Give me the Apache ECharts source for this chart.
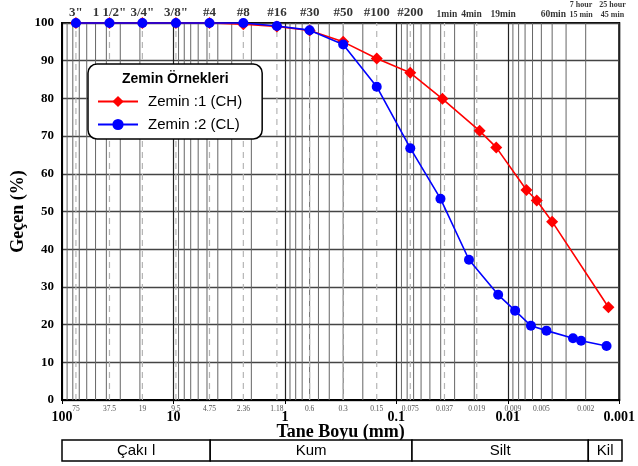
<!DOCTYPE html>
<html>
<head>
<meta charset="utf-8">
<script src="https://cdn.jsdelivr.net/npm/echarts@6/dist/echarts.min.js"></script>
<style>
  html, body { margin: 0; padding: 0; background: #fff; }
  #chart { width: 638px; height: 466px; }
</style>
</head>
<body>
<div id="chart"></div>
<script>
// elek boyutlari (mm) ve isimleri
const sieveSizes = [75, 37.5, 19, 9.5, 4.75, 2.36, 1.18, 0.6, 0.3, 0.15, 0.075];
const sieveNames = ['3"', '1 1/2"', '3/4"', '3/8"', '#4', '#8', '#16', '#30', '#50', '#100', '#200'];
// alt kenardaki kucuk etiketler
const bottomSizes = [75, 37.5, 19, 9.5, 4.75, 2.36, 1.18, 0.6, 0.3, 0.15, 0.075, 0.037, 0.019, 0.009, 0.005, 0.002];
const dashedSizes = [75, 37.5, 19, 9.5, 4.75, 2.36, 1.18, 0.6, 0.3, 0.15, 0.075, 0.037, 0.019];
// hidrometre okuma zamanlari
const hydroNames = ['1min', '4min', '19min', '60min', '7 hour\n15 min', '25 hour\n45 min'];
const hydroSizes = [0.0352, 0.0212, 0.011, 0.0039, 0.0022, 0.00115];
// log grid
const decades = [0.001, 0.01, 0.1, 1, 10];
const minorSteps = [2, 3, 4, 5, 6, 7, 8, 9];
// zemin siniflari
const soilNames = ['Çakı l', 'Kum', 'Silt', 'Kil'];
const soilBounds = [100, 4.75, 0.075, 0.002, 0.001];

// Zemin 1 (CH)
const soil1D = [75, 37.5, 19, 9.5, 4.75, 2.36, 1.18, 0.6, 0.3, 0.15, 0.075, 0.0386, 0.0179, 0.0127, 0.0068, 0.0055, 0.0040, 0.00125];
const soil1P = [100, 100, 100, 100, 100, 99.7, 99.1, 98.0, 95.0, 90.6, 86.8, 79.9, 71.4, 67.0, 55.7, 52.9, 47.3, 24.6];
// Zemin 2 (CL)
const soil2D = [75, 37.5, 19, 9.5, 4.75, 2.36, 1.18, 0.6, 0.3, 0.15, 0.075, 0.0402, 0.0223, 0.0122, 0.0086, 0.0062, 0.0045, 0.0026, 0.0022, 0.0013];
const soil2P = [100, 100, 100, 100, 100, 100, 99.2, 98.1, 94.3, 83.1, 66.8, 53.4, 37.2, 27.9, 23.7, 19.7, 18.4, 16.4, 15.7, 14.3];

const serif = 'Liberation Serif';
const sans = 'Liberation Sans';

const minorSizes = [];
decades.forEach(d => minorSteps.forEach(s => minorSizes.push(d * s)));

// dikey cizgi: eksen olcegi ile 0..100 arasi
function vLine(color, width, dash) {
  return function (params, api) {
    const x = api.value(0);
    const p0 = api.coord([x, 0]);
    const p1 = api.coord([x, 100]);
    return {
      type: 'line', silent: true,
      shape: { x1: p0[0], y1: p0[1], x2: p1[0], y2: p1[1] },
      style: { stroke: color, lineWidth: width, lineDash: dash }
    };
  };
}

function labelSeries(sizes, names, yVal, pos, dist, style) {
  return {
    type: 'scatter', silent: true, clip: false,
    symbolSize: 0,
    data: sizes.map((d, i) => ({ value: [d, yVal], name: names[i] })),
    label: Object.assign({ show: true, position: pos, distance: dist, formatter: '{b}' }, style),
    z: 3
  };
}

const chart = echarts.init(document.getElementById('chart'));
const option = {
  animation: false,
  title: {
    text: 'Zemin Örnekleri',
    left: 117, top: 67,
    textStyle: { fontFamily: sans, fontSize: 14, fontWeight: 'bold', color: '#000' }
  },
  legend: {
    data: ['Zemin :1 (CH)', 'Zemin :2 (CL)'],
    orient: 'vertical',
    left: 88, top: 64,
    padding: [30, 20, 7, 9],
    itemGap: 8,
    itemWidth: 40, itemHeight: 14,
    backgroundColor: '#fff',
    borderColor: '#000', borderWidth: 1.5, borderRadius: 9,
    textStyle: { fontFamily: sans, fontSize: 15, color: '#000', padding: [0, 0, 0, 5] }
  },
  grid: [
    { left: 62, right: 16, top: 23, bottom: 66, show: true, borderColor: '#000', borderWidth: 2 },
    { left: 62, right: 16, top: 440, height: 21 }
  ],
  xAxis: [
    {
      type: 'log', logBase: 10, min: 0.001, max: 100, inverse: true,
      name: 'Tane Boyu (mm)', nameLocation: 'middle', nameGap: 23, nameMoveOverlap: false,
      nameTextStyle: { fontFamily: serif, fontSize: 18, fontWeight: 'bold', color: '#000' },
      axisLine: { show: true, lineStyle: { color: '#000', width: 2 } },
      axisTick: { show: true, length: 4, lineStyle: { color: '#000' } },
      axisLabel: {
        margin: 10, fontFamily: serif, fontSize: 14, fontWeight: 'bold', color: '#000',
        showMinLabel: true, showMaxLabel: true,
        formatter: v => String(parseFloat(Number(v).toPrecision(6)))
      },
      splitLine: { show: true, lineStyle: { color: '#222', width: 1.2 } }
    },
    { type: 'log', logBase: 10, min: 0.001, max: 100, inverse: true, gridIndex: 1, show: false }
  ],
  yAxis: [
    {
      type: 'value', min: 0, max: 100, interval: 10,
      name: 'Geçen (%)', nameLocation: 'middle', nameGap: 35, nameMoveOverlap: false,
      nameTextStyle: { fontFamily: serif, fontSize: 18, fontWeight: 'bold', color: '#000' },
      axisLine: { show: true, lineStyle: { color: '#000', width: 2 } },
      axisTick: { show: false },
      axisLabel: { margin: 8, fontFamily: serif, fontSize: 13, fontWeight: 'bold', color: '#000' },
      splitLine: { show: true, lineStyle: { color: '#444', width: 1.3 } }
    },
    { type: 'value', min: 0, max: 1, gridIndex: 1, show: false }
  ],
  series: [
    {
      type: 'custom', silent: true, clip: false, z: 1,
      data: minorSizes.map(d => [d, 0]),
      renderItem: vLine('#666', 1, null)
    },
    {
      type: 'custom', silent: true, clip: false, z: 1,
      data: dashedSizes.map(d => [d, 0]),
      renderItem: vLine('#b5b5b5', 1.2, [6, 5])
    },
    labelSeries(sieveSizes, sieveNames, 100, 'top', 4,
      { fontFamily: serif, fontSize: 13, fontWeight: 'bold', color: '#000' }),
    labelSeries(hydroSizes, hydroNames, 100, 'top', 3,
      { fontFamily: serif, fontSize: 9.5, fontWeight: 'bold', color: '#000', lineHeight: 10 }),
    labelSeries(bottomSizes, bottomSizes.map(String), 0, 'bottom', 5,
      { fontFamily: serif, fontSize: 7.5, color: '#222' }),
    {
      name: 'Zemin :1 (CH)', type: 'line',
      data: soil1D.map((d, i) => [d, soil1P[i]]),
      symbol: 'diamond', symbolSize: 12, clip: false,
      lineStyle: { color: '#ff0000', width: 1.6 },
      itemStyle: { color: '#ff0000' },
      z: 5
    },
    {
      name: 'Zemin :2 (CL)', type: 'line',
      data: soil2D.map((d, i) => [d, soil2P[i]]),
      symbol: 'circle', symbolSize: 10, clip: false,
      lineStyle: { color: '#0000ff', width: 1.6 },
      itemStyle: { color: '#0000ff' },
      z: 6
    },
    {
      name: 'soil', type: 'line', data: [], xAxisIndex: 1, yAxisIndex: 1, silent: true,
      markArea: {
        silent: true,
        itemStyle: { color: '#fff', borderColor: '#000', borderWidth: 1.5 },
        label: { show: true, position: 'inside', fontFamily: sans, fontSize: 15, color: '#000' },
        data: soilNames.map((n, i) => [{ xAxis: soilBounds[i], name: n }, { xAxis: soilBounds[i + 1] }])
      }
    }
  ]
};
// iki satirli hidrometre etiketleri daha kucuk
option.series[3].data.forEach(item => {
  if (item.name.indexOf('\n') >= 0) item.label = { fontSize: 8, lineHeight: 10 };
});
chart.setOption(option);
</script>
</body>
</html>
